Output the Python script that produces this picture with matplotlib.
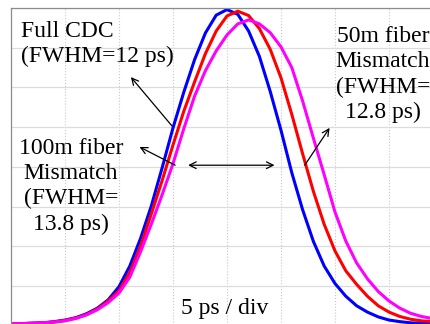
import matplotlib
matplotlib.use("Agg")
import matplotlib.pyplot as plt

plt.rcParams['font.family'] = ['Liberation Serif', 'DejaVu Serif']

# time axis in ps (5 ps / div), intensity in divisions (8 div full scale)
time_ps = list(range(0, 41))

# Full CDC (FWHM = 12 ps)
blue_v = [0.05, 0.05, 0.06, 0.07, 0.10, 0.14, 0.20, 0.30, 0.44, 0.65, 0.98,
          1.50, 2.20, 3.02, 3.98, 4.98, 5.88, 6.70, 7.37, 7.82, 7.96,
          7.84, 7.42, 6.78, 5.90, 4.92, 3.85, 2.92, 2.12, 1.50, 1.06,
          0.74, 0.50, 0.34, 0.22, 0.14, 0.10, 0.07, 0.06, 0.05, 0.05]

# 50 m fiber mismatch (FWHM = 12.8 ps)
red_v = [0.05, 0.05, 0.06, 0.07, 0.09, 0.13, 0.19, 0.28, 0.42, 0.62, 0.88,
         1.34, 2.00, 2.82, 3.66, 4.55, 5.40, 6.14, 6.85, 7.42, 7.80,
         7.92, 7.81, 7.48, 6.96, 6.24, 5.32, 4.33, 3.38, 2.55, 1.88,
         1.38, 1.04, 0.74, 0.50, 0.34, 0.23, 0.16, 0.12, 0.10, 0.09]

# 100 m fiber mismatch (FWHM = 13.8 ps)
magenta_v = [0.05, 0.05, 0.06, 0.07, 0.09, 0.12, 0.18, 0.27, 0.40, 0.58, 0.82,
             1.22, 1.86, 2.56, 3.30, 4.08, 4.96, 5.78, 6.42, 6.92, 7.32,
             7.60, 7.70, 7.60, 7.38, 7.02, 6.50, 5.66, 4.72, 3.80, 2.86,
             2.13, 1.58, 1.18, 0.86, 0.62, 0.44, 0.31, 0.23, 0.18, 0.15]

fig = plt.figure(figsize=(4.31, 3.24), dpi=100)
ax = fig.add_axes([11 / 431, 1 - 325.6 / 324, 432 / 431, 317.6 / 324])

ax.plot(time_ps, blue_v, color='#0000ff', lw=2.2, solid_joinstyle='round')
ax.plot(time_ps, red_v, color='#ff0000', lw=2.2, solid_joinstyle='round')
ax.plot(time_ps, magenta_v, color='#ff00ff', lw=2.2, solid_joinstyle='round')

ax.set_xlim(0, 40)
ax.set_ylim(0, 8)
ax.set_xticks(range(0, 41, 5))
ax.set_yticks(range(0, 9))
ax.tick_params(length=0, labelbottom=False, labelleft=False)
ax.grid(axis='y', color='#dcdcdc', lw=0.9, ls='-')
ax.grid(axis='x', color='#c8c8c8', lw=0.8, ls=':')
ax.set_axisbelow(True)
for s in ['left', 'top']:
    ax.spines[s].set_color('#8c8c8c')
    ax.spines[s].set_linewidth(0.9)
for s in ['right', 'bottom']:
    ax.spines[s].set_visible(False)

fs = 17
ls = 1.26
ax.text(0.93, 6.64, "Full CDC\n(FWHM=12 ps)", ha='left', va='baseline',
        fontsize=fs, linespacing=ls)
ax.text(5.56, 2.41, "100m fiber\nMismatch\n(FWHM=\n13.8 ps)", ha='center', va='baseline',
        multialignment='center', fontsize=fs, linespacing=ls)
ax.text(34.44, 5.23, "50m fiber\nMismatch\n(FWHM=\n12.8 ps)", ha='center', va='baseline',
        multialignment='center', fontsize=fs, linespacing=ls)
ax.text(19.81, 0.29, "5 ps / div", ha='center', va='baseline', fontsize=fs)

arrow = dict(arrowstyle='->', color='black', lw=0.9, shrinkA=0, shrinkB=0, mutation_scale=12)
ax.annotate("", xy=(11.1, 6.26), xytext=(14.9, 5.03), arrowprops=arrow)
ax.annotate("", xy=(11.9, 4.50), xytext=(15.2, 4.04), arrowprops=arrow)
ax.annotate("", xy=(16.4, 4.04), xytext=(24.4, 4.04),
            arrowprops=dict(arrowstyle='<->', color='black', lw=0.9, shrinkA=0, shrinkB=0,
                            mutation_scale=12))
ax.annotate("", xy=(29.5, 4.98), xytext=(27.2, 4.04), arrowprops=arrow)

fig.savefig("out.png", dpi=100)
